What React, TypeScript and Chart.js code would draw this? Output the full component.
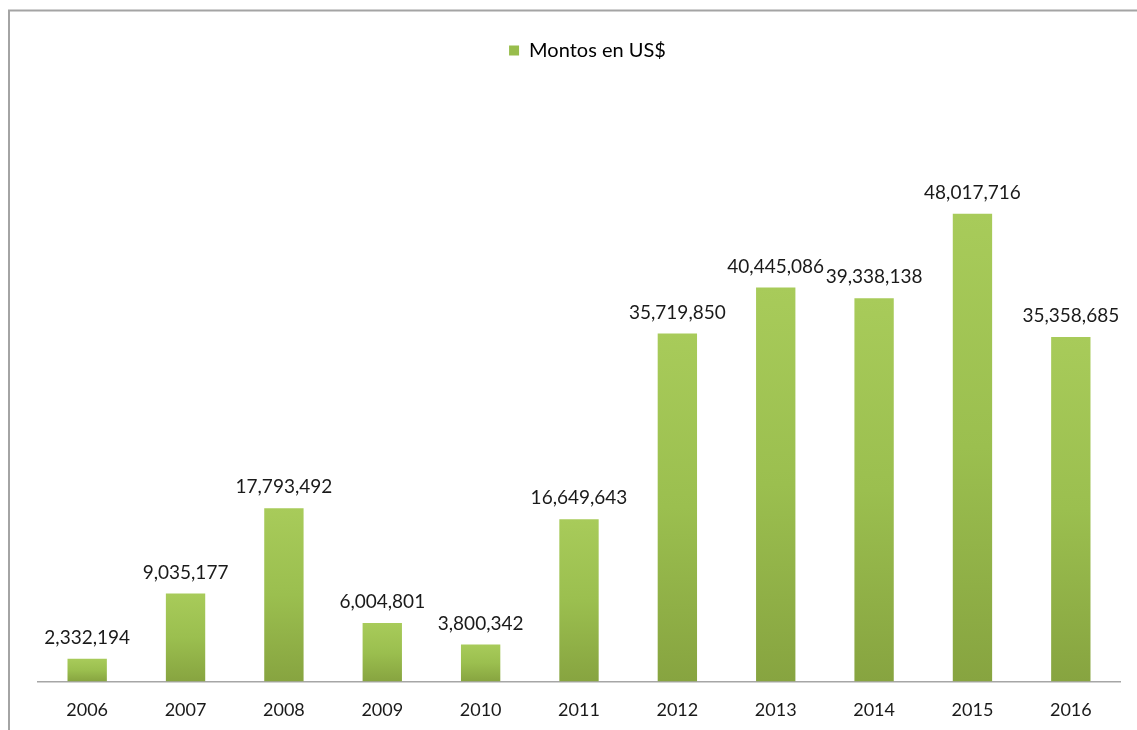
import React, { useEffect, useRef } from "react";
import { Chart, registerables } from "chart.js";

Chart.register(...registerables);

const categories = ["2006", "2007", "2008", "2009", "2010", "2011", "2012", "2013", "2014", "2015", "2016"];
const montos = [2332194, 9035177, 17793492, 6004801, 3800342, 16649643, 35719850, 40445086, 39338138, 48017716, 35358685];
const seriesLabel = "Montos en US$";

const FONT = "Lato, 'Open Sans', sans-serif";

const framePlugin = {
  id: "frame",
  beforeDraw(chart: any) {
    const ctx = chart.ctx;
    ctx.save();
    ctx.strokeStyle = "#a4a4a4";
    ctx.lineWidth = 2;
    ctx.beginPath();
    ctx.moveTo(9, chart.height + 5);
    ctx.lineTo(9, 10.5);
    ctx.lineTo(chart.width + 5, 10.5);
    ctx.stroke();
    ctx.restore();
  },
};

const valueLabelPlugin = {
  id: "valueLabels",
  afterDatasetsDraw(chart: any) {
    const ctx = chart.ctx;
    const meta = chart.getDatasetMeta(0);
    const data = chart.data.datasets[0].data as number[];
    ctx.save();
    ctx.font = `19px ${FONT}`;
    ctx.fillStyle = "#1a1a1a";
    ctx.textAlign = "center";
    ctx.textBaseline = "middle";
    meta.data.forEach((bar: any, i: number) => {
      ctx.fillText(data[i].toLocaleString("en-US"), bar.x, bar.y - 21);
    });
    ctx.restore();
  },
};

export default function App() {
  const ref = useRef<HTMLCanvasElement>(null);

  useEffect(() => {
    if (!ref.current) return;
    const chart = new Chart(ref.current, {
      type: "bar",
      data: {
        labels: categories,
        datasets: [
          {
            label: seriesLabel,
            data: montos,
            backgroundColor: (c: any) => {
              const chart = c.chart;
              const area = chart.chartArea;
              if (!area || c.type !== "data") return "#9bc04f";
              const y = chart.scales.y;
              const top = y.getPixelForValue(c.parsed.y);
              const bottom = y.getPixelForValue(0);
              if (!isFinite(top) || !isFinite(bottom) || bottom - top < 1) return "#9bc04f";
              const g = chart.ctx.createLinearGradient(0, top, 0, bottom);
              g.addColorStop(0, "#a8cb5a");
              g.addColorStop(0.5, "#9bbf4f");
              g.addColorStop(1, "#87a440");
              return g;
            },
            borderWidth: 0,
            barPercentage: 0.4,
            categoryPercentage: 1,
          },
        ],
      },
      options: {
        animation: false,
        responsive: true,
        maintainAspectRatio: false,
        layout: { padding: { left: 38, right: 0, top: 30.5, bottom: 10 } },
        plugins: {
          legend: {
            display: true,
            position: "top",
            weight: 1000,
            labels: {
              boxWidth: 10,
              boxHeight: 10,
              padding: 10,
              color: "#1a1a1a",
              font: { family: FONT, size: 20 },
              generateLabels: () => [
                {
                  text: seriesLabel,
                  fillStyle: "#98bd4c",
                  strokeStyle: "#98bd4c",
                  lineWidth: 0,
                  hidden: false,
                  datasetIndex: 0,
                },
              ],
            },
          },
          title: {
            display: true,
            text: " ",
            position: "top",
            weight: 500,
            font: { size: 10 },
            padding: { top: 0, bottom: 14.5 },
          },
          tooltip: { enabled: false },
        },
        scales: {
          x: {
            grid: { display: false, drawTicks: false },
            border: { display: true, color: "#a6a6a6", width: 1.5 },
            ticks: {
              color: "#1a1a1a",
              font: { family: FONT, size: 18 },
              padding: 18,
            },
            afterFit: (scale: any) => {
              scale.height = 38.5;
            },
          },
          y: {
            display: true,
            position: "right",
            min: 0,
            max: 60000000,
            grid: { display: false, drawTicks: false },
            border: { display: false },
            ticks: { display: false },
            afterFit: (scale: any) => {
              scale.width = 17;
            },
          },
        },
      },
      plugins: [framePlugin, valueLabelPlugin],
    } as any);
    return () => chart.destroy();
  }, []);

  return (
    <div style={{ position: "absolute", left: 0, top: 0, width: 1137, height: 730, background: "#fff" }}>
      <canvas ref={ref} />
    </div>
  );
}
